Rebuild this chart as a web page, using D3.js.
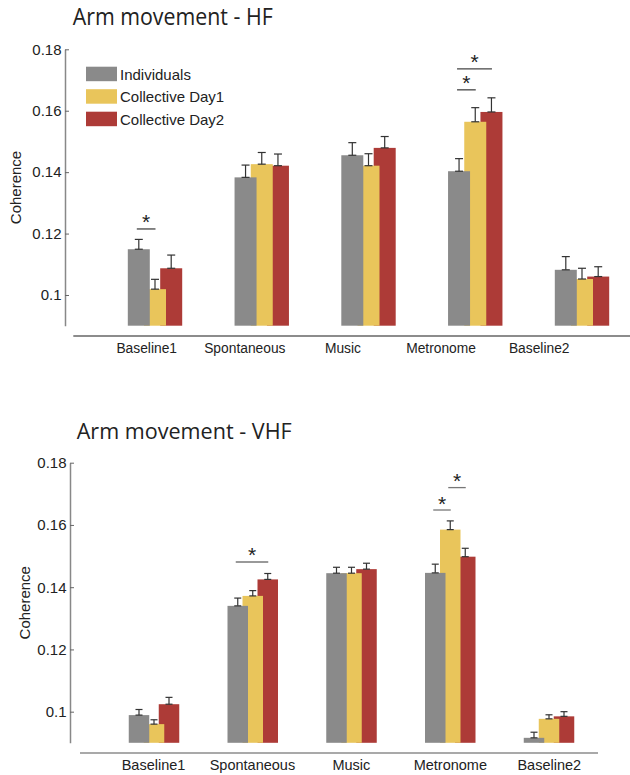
<!DOCTYPE html>
<html>
<head>
<meta charset="utf-8">
<script src="https://cdn.jsdelivr.net/npm/d3@7"></script>
<style>
  body { margin: 0; background: #fff; }
  svg { display: block; font-family: "Liberation Sans", Arial, sans-serif; }
</style>
</head>
<body>
<svg width="630" height="775"></svg>
<script>
// Data
const categories = ["Baseline1", "Spontaneous", "Music", "Metronome", "Baseline2"];
const seriesNames = ["Individuals", "Collective Day1", "Collective Day2"];
const seriesColors = ["#8a8a8a", "#e9c55b", "#ad3b37"];

const hfIndividuals = [0.1149, 0.1383, 0.1455, 0.1403, 0.1082];
const hfDay1 = [0.1019, 0.1426, 0.1421, 0.1564, 0.1052];
const hfDay2 = [0.1087, 0.1421, 0.1479, 0.1596, 0.1060];
const hfErrIndividuals = [0.0032, 0.0040, 0.0041, 0.0041, 0.0043];
const hfErrDay1 = [0.0032, 0.0038, 0.0039, 0.0046, 0.0035];
const hfErrDay2 = [0.0043, 0.0038, 0.0037, 0.0046, 0.0032];

const vhfIndividuals = [0.0989, 0.1340, 0.1445, 0.1446, 0.0916];
const vhfDay1 = [0.0960, 0.1372, 0.1445, 0.1585, 0.0977];
const vhfDay2 = [0.1024, 0.1425, 0.1458, 0.1498, 0.0985];
const vhfErrIndividuals = [0.0018, 0.0025, 0.0019, 0.0028, 0.0018];
const vhfErrDay1 = [0.0014, 0.0017, 0.0019, 0.0028, 0.0013];
const vhfErrDay2 = [0.0022, 0.0019, 0.0019, 0.0027, 0.0015];

// significance bars: category, pair of series, height in data units
const hfSig = [
	{cat: "Baseline1", a: 0, b: 1, level: 0.1215},
	{cat: "Metronome", a: 0, b: 1, level: 0.1668},
	{cat: "Metronome", a: 0, b: 2, level: 0.1736}
];
const vhfSig = [
	{cat: "Spontaneous", a: 0, b: 2, level: 0.1481},
	{cat: "Metronome", a: 0, b: 1, level: 0.1648},
	{cat: "Metronome", a: 1, b: 2, level: 0.1720}
];

const yTicks = [0.1, 0.12, 0.14, 0.16, 0.18];
const yTickLabels = ["0.1", "0.12", "0.14", "0.16", "0.18"];
const yDomain = [0.09, 0.18];

const svg = d3.select("svg");

const drawPanel = cfg => {
	const g = svg.append("g");

	const scaleY = d3.scaleLinear().domain(yDomain).range(cfg.yRange);
	const scaleX = d3.scalePoint().domain(categories).range(cfg.groupRange);
	const scaleLabel = d3.scalePoint().domain(categories).range(cfg.labelRange);
	const scaleS = d3.scalePoint().domain(d3.range(3)).range([-cfg.step, cfg.step]);

	const bars = [];
	cfg.values.forEach((vals, s) => vals.forEach((v, i) => bars.push({
		cat: categories[i], s: s, v: v, err: cfg.errors[s][i]
	})));

	// Title
	g.append("text")
		.attr("x", cfg.titleX)
		.attr("y", cfg.titleY)
		.attr("font-family", "'Open Sans', sans-serif")
		.attr("font-size", cfg.titleSize)
		.attr("textLength", cfg.titleLen)
		.attr("lengthAdjust", "spacingAndGlyphs")
		.attr("fill", "#222")
		.text(cfg.title);

	// Bars, drawn right to left so the left one sits on top
	const order = bars.slice().sort((p, q) => q.s - p.s);
	g.append("g").selectAll("rect")
		.data(order)
		.join("rect")
		.attr("x", d => scaleX(d.cat) + scaleS(d.s) - cfg.barW / 2)
		.attr("width", cfg.barW)
		.attr("y", d => scaleY(d.v))
		.attr("height", d => scaleY(yDomain[0]) - scaleY(d.v))
		.attr("fill", d => seriesColors[d.s]);

	// Error bars
	const eb = g.append("g").attr("stroke", "#333").attr("stroke-width", 1.2);
	bars.forEach(d => {
		const cx = scaleX(d.cat) + scaleS(d.s);
		eb.append("line").attr("x1", cx).attr("x2", cx)
			.attr("y1", scaleY(d.v)).attr("y2", scaleY(d.v + d.err));
		[d.v, d.v + d.err].forEach(y => eb.append("line")
			.attr("x1", cx - cfg.cap / 2).attr("x2", cx + cfg.cap / 2)
			.attr("y1", scaleY(y)).attr("y2", scaleY(y)));
	});

	// Significance markers
	cfg.sig.forEach(d => {
		const x1 = scaleX(d.cat) + scaleS(d.a) - 2;
		const x2 = scaleX(d.cat) + scaleS(d.b) + 0.5;
		const y = scaleY(d.level);
		g.append("line")
			.attr("x1", x1).attr("x2", x2).attr("y1", y).attr("y2", y)
			.attr("stroke", cfg.sigColor).attr("stroke-width", 1.3);
		g.append("text")
			.attr("x", (x1 + x2) / 2)
			.attr("y", y + 0.5)
			.attr("text-anchor", "middle")
			.attr("font-size", 21)
			.attr("fill", "#222")
			.text("*");
	});

	// y-axis
	g.append("g")
		.attr("transform", `translate(${cfg.axisX}, 0)`)
		.call(d3.axisLeft(scaleY)
			.tickValues(yTicks)
			.tickFormat((d, i) => yTickLabels[i])
			.tickSize(-4)
			.tickSizeOuter(0)
			.tickPadding(3.5))
		.call(a => a.select(".domain").attr("stroke", "#888").attr("stroke-width", 1.5))
		.call(a => a.selectAll(".tick line").attr("stroke", "#666"))
		.call(a => a.selectAll(".tick text")
			.attr("font-size", 15)
			.attr("font-family", "'Liberation Sans', Arial, sans-serif")
			.attr("fill", "#222"));

	g.append("text")
		.attr("transform", `translate(${cfg.yLabelX}, ${d3.mean(cfg.yRange)}) rotate(-90)`)
		.attr("text-anchor", "middle")
		.attr("font-size", 15)
		.attr("fill", "#222")
		.text("Coherence");

	// x-axis line and labels
	g.append("line")
		.attr("x1", cfg.xLine[0]).attr("x2", cfg.xLine[1])
		.attr("y1", cfg.xLineY).attr("y2", cfg.xLineY)
		.attr("stroke", "#8c8c8c").attr("stroke-width", cfg.xLineW);

	g.append("g").selectAll("text")
		.data(categories)
		.join("text")
		.attr("x", d => scaleLabel(d))
		.attr("y", cfg.labelY)
		.attr("text-anchor", "middle")
		.attr("font-size", cfg.labelSize)
		.attr("fill", "#222")
		.text(d => d);

	// Legend
	if (cfg.legend) {
		const lg = g.append("g").attr("transform", `translate(86, 66.7)`);
		seriesNames.forEach((name, i) => {
			lg.append("rect")
				.attr("x", 0).attr("y", i * 22.5)
				.attr("width", 31).attr("height", 14.5)
				.attr("fill", seriesColors[i]);
			lg.append("text")
				.attr("x", 34).attr("y", i * 22.5 + 13.3)
				.attr("font-size", 15)
				.attr("fill", "#222")
				.text(name);
		});
	}
};

drawPanel({
	title: "Arm movement - HF",
	titleX: 72.7, titleY: 25, titleSize: 24, titleLen: 200,
	values: [hfIndividuals, hfDay1, hfDay2],
	errors: [hfErrIndividuals, hfErrDay1, hfErrDay2],
	sig: hfSig, sigColor: "#444",
	yRange: [325.7, 49.3],
	groupRange: [155, 582],
	labelRange: [146.7, 539.2],
	step: 16.2, barW: 22, cap: 8,
	axisX: 65, yLabelX: 20.7,
	xLine: [73.3, 630], xLineY: 336, xLineW: 2,
	labelY: 353.3, labelSize: 13.8,
	legend: true
});

drawPanel({
	title: "Arm movement - VHF",
	titleX: 76.7, titleY: 439.3, titleSize: 22, titleLen: 215,
	values: [vhfIndividuals, vhfDay1, vhfDay2],
	errors: [vhfErrIndividuals, vhfErrDay1, vhfErrDay2],
	sig: vhfSig, sigColor: "#777",
	yRange: [742.8, 462.7],
	groupRange: [154, 549],
	labelRange: [153.5, 549.3],
	step: 15, barW: 20.5, cap: 7,
	axisX: 70, yLabelX: 30,
	xLine: [80, 598], xLineY: 753, xLineW: 1.5,
	labelY: 770, labelSize: 14.5,
	legend: false
});
</script>
</body>
</html>
